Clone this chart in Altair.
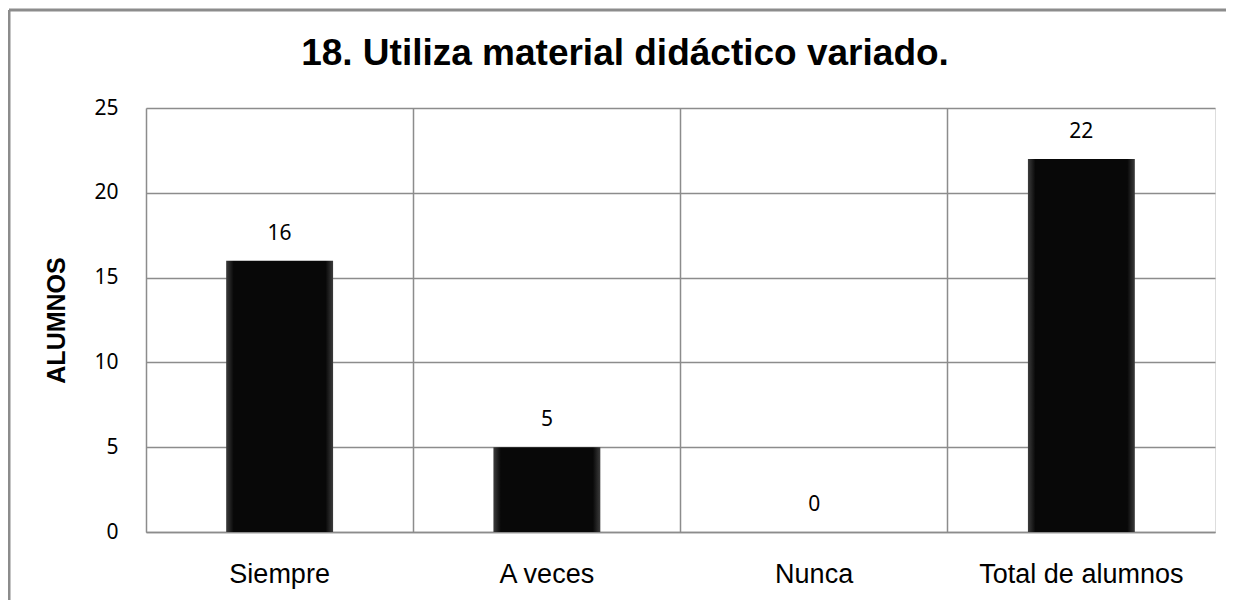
import altair as alt
import pandas as pd

categorias = ["Siempre", "A veces", "Nunca", "Total de alumnos"]
valores = [16, 5, 0, 22]
ticks_y = [0, 5, 10, 15, 20, 25]
titulo = "18. Utiliza material didáctico variado."
titulo_y = "ALUMNOS"

df = pd.DataFrame({"categoria": categorias, "valor": valores})

GRID = "#8c8c8c"
PLOT_W, PLOT_H = 1069, 424

bar_fill = alt.Gradient(
    gradient="linear",
    x1=0, x2=1, y1=0, y2=0,
    stops=[
        alt.GradientStop(offset=0.0, color="#3c3c3c"),
        alt.GradientStop(offset=0.07, color="#080808"),
        alt.GradientStop(offset=0.93, color="#080808"),
        alt.GradientStop(offset=1.0, color="#3c3c3c"),
    ],
)

base = alt.Chart(df).encode(
    x=alt.X(
        "categoria:N",
        sort=categorias,
        scale=alt.Scale(paddingInner=0, paddingOuter=0),
        axis=alt.Axis(
            title=None,
            grid=True,
            gridColor=GRID,
            gridWidth=1.5,
            bandPosition=0,
            domainColor=GRID,
            domainWidth=1.5,
            ticks=False,
            labelAngle=0,
            labelFont="Liberation Sans",
            labelFontSize=27,
            labelColor="#000000",
            labelBaseline="alphabetic",
            labelPadding=50,
            labelLimit=0,
        ),
    ),
    y=alt.Y(
        "valor:Q",
        scale=alt.Scale(domain=[0, 25]),
        axis=alt.Axis(
            title=titulo_y,
            titleFont="Liberation Sans",
            titleFontSize=25,
            titleFontWeight="bold",
            titleColor="#000000",
            titleAngle=270,
            titleAlign="center",
            titleBaseline="alphabetic",
            titleX=-82,
            titleY=PLOT_H / 2,
            values=ticks_y,
            grid=True,
            gridColor=GRID,
            gridWidth=1.5,
            domain=False,
            ticks=False,
            labelFont="Noto Sans",
            labelFontSize=21,
            labelColor="#000000",
            labelPadding=28,
        ),
    ),
)

bars = base.mark_bar(width=alt.RelativeBandSize(0.4), fill=bar_fill)
labels = base.mark_text(
    baseline="alphabetic", dy=-21, font="Noto Sans", fontSize=21, color="#000000"
).encode(text="valor:Q")

borde = pd.DataFrame({"titulo": [titulo]})
borde_sup = alt.Chart(borde).mark_rule(color=GRID, strokeWidth=3).encode(
    x=alt.value(-137), x2=alt.value(PLOT_W + 20), y=alt.value(-98)
)
borde_izq = alt.Chart(borde).mark_rule(color=GRID, strokeWidth=3).encode(
    x=alt.value(-137), y=alt.value(-98), y2=alt.value(PLOT_H + 80)
)
titulo_mark = alt.Chart(borde).mark_text(
    font="Liberation Sans",
    fontSize=37,
    fontWeight="bold",
    color="#000000",
    align="center",
    baseline="alphabetic",
).encode(text="titulo:N", x=alt.value(479), y=alt.value(-43))

chart = (
    alt.layer(bars, labels, borde_sup, borde_izq, titulo_mark)
    .properties(
        width=PLOT_W,
        height=PLOT_H,
        autosize=alt.AutoSizeParams(type="none"),
        padding={"left": 138, "top": 100, "right": 11, "bottom": 68},
    )
    .configure_view(stroke=GRID, strokeWidth=1.5)
    .configure(background="white")
)

chart.save("out.html", embed_options={"renderer": "svg", "actions": False})
